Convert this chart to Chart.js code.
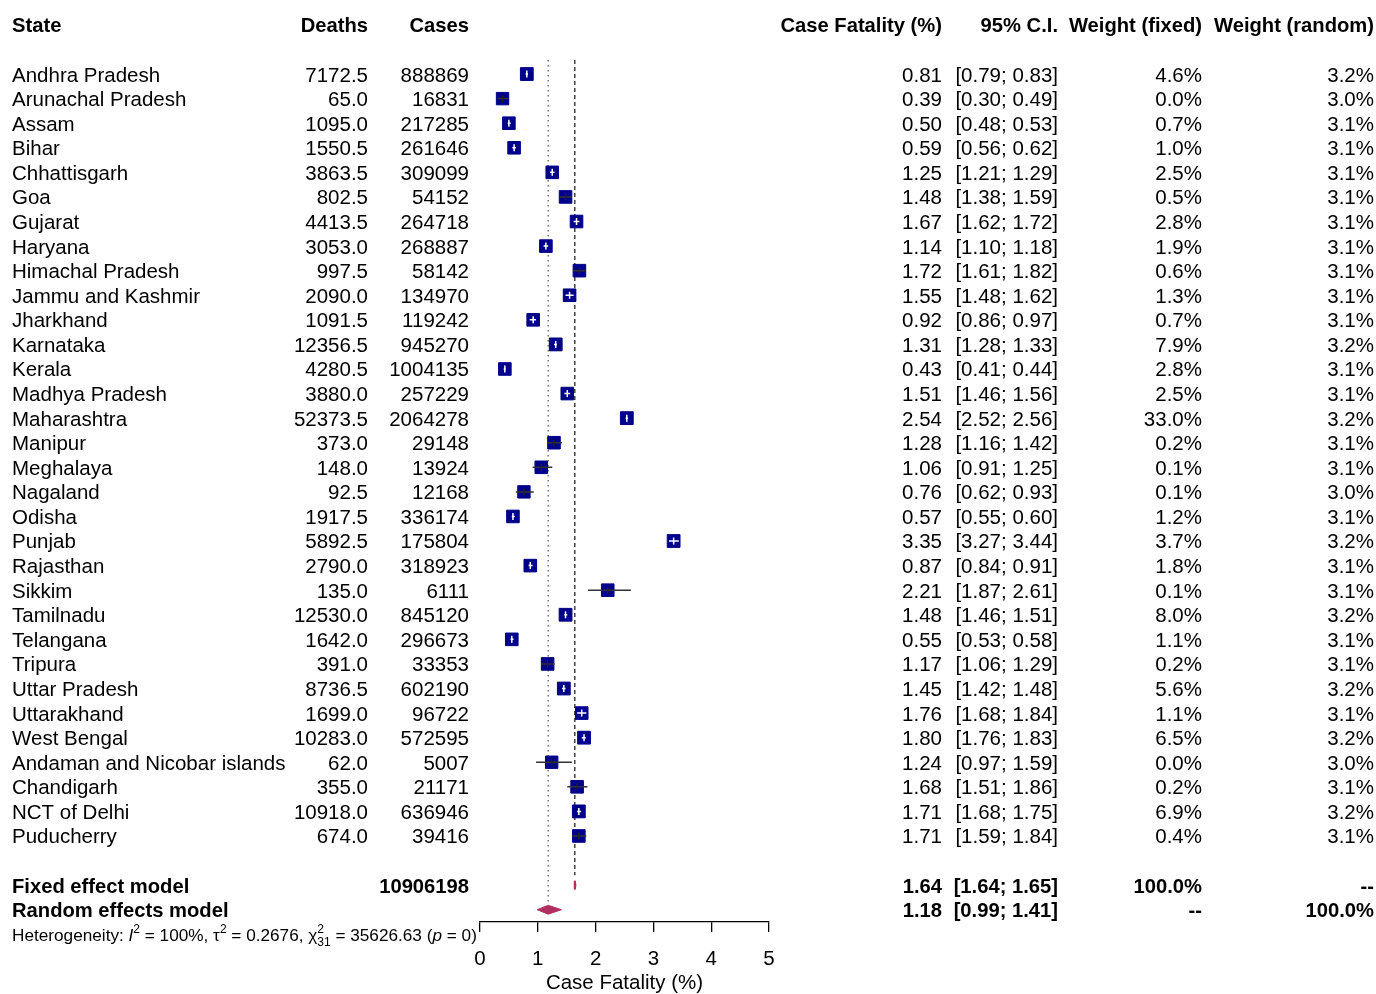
<!DOCTYPE html>
<html>
<head>
<meta charset="utf-8">
<script src="https://cdn.jsdelivr.net/npm/chart.js@4.4.1/dist/chart.umd.min.js"></script>
<style>
  html, body { margin: 0; padding: 0; background: #fff; }
  canvas { display: block; }
</style>
</head>
<body>
<canvas id="forest" width="1376" height="994"></canvas>
<script>
// study rows
const states = ["Andhra Pradesh", "Arunachal Pradesh", "Assam", "Bihar", "Chhattisgarh", "Goa", "Gujarat",
  "Haryana", "Himachal Pradesh", "Jammu and Kashmir", "Jharkhand", "Karnataka", "Kerala", "Madhya Pradesh",
  "Maharashtra", "Manipur", "Meghalaya", "Nagaland", "Odisha", "Punjab", "Rajasthan", "Sikkim", "Tamilnadu",
  "Telangana", "Tripura", "Uttar Pradesh", "Uttarakhand", "West Bengal", "Andaman and Nicobar islands",
  "Chandigarh", "NCT of Delhi", "Puducherry"];
const deaths = [7172.5, 65.0, 1095.0, 1550.5, 3863.5, 802.5, 4413.5, 3053.0, 997.5, 2090.0, 1091.5, 12356.5,
  4280.5, 3880.0, 52373.5, 373.0, 148.0, 92.5, 1917.5, 5892.5, 2790.0, 135.0, 12530.0, 1642.0, 391.0, 8736.5,
  1699.0, 10283.0, 62.0, 355.0, 10918.0, 674.0];
const cases = [888869, 16831, 217285, 261646, 309099, 54152, 264718, 268887, 58142, 134970, 119242, 945270,
  1004135, 257229, 2064278, 29148, 13924, 12168, 336174, 175804, 318923, 6111, 845120, 296673, 33353, 602190,
  96722, 572595, 5007, 21171, 636946, 39416];
const fatality = [0.81, 0.39, 0.50, 0.59, 1.25, 1.48, 1.67, 1.14, 1.72, 1.55, 0.92, 1.31, 0.43, 1.51, 2.54,
  1.28, 1.06, 0.76, 0.57, 3.35, 0.87, 2.21, 1.48, 0.55, 1.17, 1.45, 1.76, 1.80, 1.24, 1.68, 1.71, 1.71];
const lower = [0.79, 0.30, 0.48, 0.56, 1.21, 1.38, 1.62, 1.10, 1.61, 1.48, 0.86, 1.28, 0.41, 1.46, 2.52,
  1.16, 0.91, 0.62, 0.55, 3.27, 0.84, 1.87, 1.46, 0.53, 1.06, 1.42, 1.68, 1.76, 0.97, 1.51, 1.68, 1.59];
const upper = [0.83, 0.49, 0.53, 0.62, 1.29, 1.59, 1.72, 1.18, 1.82, 1.62, 0.97, 1.33, 0.44, 1.56, 2.56,
  1.42, 1.25, 0.93, 0.60, 3.44, 0.91, 2.61, 1.51, 0.58, 1.29, 1.48, 1.84, 1.83, 1.59, 1.86, 1.75, 1.84];
const weightFixed = [4.6, 0.0, 0.7, 1.0, 2.5, 0.5, 2.8, 1.9, 0.6, 1.3, 0.7, 7.9, 2.8, 2.5, 33.0, 0.2, 0.1,
  0.1, 1.2, 3.7, 1.8, 0.1, 8.0, 1.1, 0.2, 5.6, 1.1, 6.5, 0.0, 0.2, 6.9, 0.4];
const weightRandom = [3.2, 3.0, 3.1, 3.1, 3.1, 3.1, 3.1, 3.1, 3.1, 3.1, 3.1, 3.2, 3.1, 3.1, 3.2, 3.1, 3.1,
  3.0, 3.1, 3.2, 3.1, 3.1, 3.2, 3.1, 3.1, 3.2, 3.1, 3.2, 3.0, 3.1, 3.2, 3.1];

// pooled estimates
const models = ["Fixed effect model", "Random effects model"];
const modelCases = ["10906198", ""];
const modelEst = [1.64, 1.18];
const modelLower = [1.64, 0.99];
const modelUpper = [1.65, 1.41];
const modelWeightFixed = ["100.0%", "--"];
const modelWeightRandom = ["--", "100.0%"];

// heterogeneity
const hetI2 = "100%";
const hetTau2 = "0.2676";
const hetQ = "35626.63";
const hetDf = "31";
const hetP = "0";

const xTicks = [0, 1, 2, 3, 4, 5];

const FONT = "'Liberation Sans', Arial, Helvetica, sans-serif";
const MAROON = "#B03060";
const NAVY = "#00008B";

const nStudy = states.length;
const rowFixed = nStudy + 1;
const rowRandom = nStudy + 2;
const rowHet = nStudy + 3;
const rowHeader = -2;

// CI segments, split into those hidden inside the square (white) and those sticking out (dark)
const ciIn = [], ciOut = [], ticks = [], tickCols = [];
fatality.forEach((est, i) => {
  const inside = Math.max(est - lower[i], upper[i] - est) < 0.095;
  const target = inside ? ciIn : ciOut;
  target.push({x: lower[i], y: i}, {x: upper[i], y: i}, {x: NaN, y: NaN});
  ticks.push({x: est, y: i});
  tickCols.push(inside ? "#fff" : "#222");
});

function diamond(k, row) {
  const h = 0.18;
  return [
    {x: modelLower[k], y: row}, {x: modelEst[k], y: row - h},
    {x: modelUpper[k], y: row}, {x: modelEst[k], y: row + h},
    {x: modelLower[k], y: row}
  ];
}

const tablePlugin = {
  id: "forestTable",
  afterDraw(chart) {
    const ctx = chart.ctx;
    const y = chart.scales.y;
    ctx.save();
    ctx.fillStyle = "#000";
    ctx.textBaseline = "middle";

    const put = (txt, x, row, align, bold) => {
      ctx.font = (bold ? "bold 20.2px " : "20.5px ") + FONT;
      ctx.textAlign = align;
      ctx.fillText(txt, x, y.getPixelForValue(row) + 1.8);
    };

    // header
    put("State", 12, rowHeader, "left", true);
    put("Deaths", 368, rowHeader, "right", true);
    put("Cases", 469, rowHeader, "right", true);
    put("Case Fatality (%)", 942, rowHeader, "right", true);
    put("95% C.I.", 1058, rowHeader, "right", true);
    put("Weight (fixed)", 1202, rowHeader, "right", true);
    put("Weight (random)", 1374, rowHeader, "right", true);

    states.forEach((s, i) => {
      put(s, 12, i, "left");
      put(deaths[i].toFixed(1), 368, i, "right");
      put(String(cases[i]), 469, i, "right");
      put(fatality[i].toFixed(2), 942, i, "right");
      put("[" + lower[i].toFixed(2) + "; " + upper[i].toFixed(2) + "]", 1058, i, "right");
      put(weightFixed[i].toFixed(1) + "%", 1202, i, "right");
      put(weightRandom[i].toFixed(1) + "%", 1374, i, "right");
    });

    models.forEach((m, k) => {
      const row = rowFixed + k;
      put(m, 12, row, "left", true);
      put(modelCases[k], 469, row, "right", true);
      put(modelEst[k].toFixed(2), 942, row, "right", true);
      put("[" + modelLower[k].toFixed(2) + "; " + modelUpper[k].toFixed(2) + "]", 1058, row, "right", true);
      put(modelWeightFixed[k], 1202, row, "right", true);
      put(modelWeightRandom[k], 1374, row, "right", true);
    });

    // heterogeneity line with super/subscripts
    ctx.textBaseline = "alphabetic";
    ctx.textAlign = "left";
    const base = y.getPixelForValue(rowHet) + 7;
    let x = 12;
    const seg = (txt, font, dy) => {
      ctx.font = font;
      ctx.fillText(txt, x, base + (dy || 0));
      x += ctx.measureText(txt).width;
    };
    const N = "17.2px " + FONT, I = "italic 17.2px " + FONT, S = "12px " + FONT;
    seg("Heterogeneity: ", N);
    seg("I", I);
    seg("2", S, -8);
    seg(" = " + hetI2 + ", \u03C4", N);
    seg("2", S, -8);
    seg(" = " + hetTau2 + ", \u03C7", N);
    ctx.font = S;
    const x0 = x;
    ctx.fillText("2", x0, base - 8);
    ctx.fillText(hetDf, x0, base + 5);
    x = x0 + Math.max(ctx.measureText("2").width, ctx.measureText(hetDf).width);
    seg(" = " + hetQ + " (", N);
    seg("p", I);
    seg(" = " + hetP + ")", N);
    ctx.restore();
  }
};

new Chart(document.getElementById("forest"), {
  type: "line",
  data: {
    datasets: [
      {
        // fixed effect reference
        data: [{x: modelEst[0], y: -0.57}, {x: modelEst[0], y: 32.6}],
        borderColor: "#444",
        borderWidth: 1.5,
        borderDash: [4, 3],
        pointRadius: 0,
        order: 6
      },
      {
        // random effects reference
        data: [{x: modelEst[1], y: -0.57}, {x: modelEst[1], y: 33.8}],
        borderColor: "#777",
        borderWidth: 1.5,
        borderDash: [1.5, 3.5],
        pointRadius: 0,
        order: 6
      },
      {
        data: states.map((s, i) => ({x: fatality[i], y: i})),
        showLine: false,
        pointStyle: "rect",
        pointRadius: weightRandom.map(w => 8.9 * Math.sqrt(w / 3.1)),
        pointBackgroundColor: NAVY,
        pointBorderColor: NAVY,
        pointBorderWidth: 1,
        order: 4
      },
      {
        data: ciOut,
        borderColor: "#333",
        borderWidth: 1.5,
        pointRadius: 0,
        spanGaps: false,
        order: 2
      },
      {
        data: ciIn,
        borderColor: "#fff",
        borderWidth: 1.5,
        pointRadius: 0,
        spanGaps: false,
        order: 2
      },
      {
        data: ticks,
        showLine: false,
        pointStyle: "line",
        rotation: 90,
        pointRadius: 3.5,
        pointBorderColor: tickCols,
        pointBorderWidth: 1.5,
        order: 1
      },
      {
        data: diamond(0, rowFixed),
        borderColor: MAROON,
        backgroundColor: MAROON,
        borderWidth: 2,
        pointRadius: 0,
        fill: "shape",
        order: 3
      },
      {
        data: diamond(1, rowRandom),
        borderColor: MAROON,
        backgroundColor: MAROON,
        borderWidth: 1,
        pointRadius: 0,
        fill: "shape",
        order: 3
      }
    ]
  },
  options: {
    responsive: false,
    animation: false,
    events: [],
    layout: {padding: {left: 480, right: 607, top: 10, bottom: 0}},
    plugins: {legend: {display: false}, tooltip: {enabled: false}},
    scales: {
      x: {
        type: "linear",
        min: 0,
        max: 5,
        afterBuildTicks: (scale) => { scale.ticks = xTicks.map(v => ({value: v})); },
        afterFit: (scale) => { scale.height = 72; },
        grid: {drawOnChartArea: false, drawTicks: true, tickLength: 10, color: "#000", lineWidth: 1.3},
        border: {display: true, color: "#000", width: 1.3},
        ticks: {color: "#000", padding: 15, font: {family: FONT, size: 20.5}, maxRotation: 0},
        title: {display: true, text: "Case Fatality (%)", color: "#000", padding: {top: 0, bottom: -2}, font: {family: FONT, size: 20.5}}
      },
      y: {
        type: "linear",
        reverse: true,
        min: -2.604,
        max: 34.5,
        display: false
      }
    }
  },
  plugins: [tablePlugin]
});
</script>
</body>
</html>
